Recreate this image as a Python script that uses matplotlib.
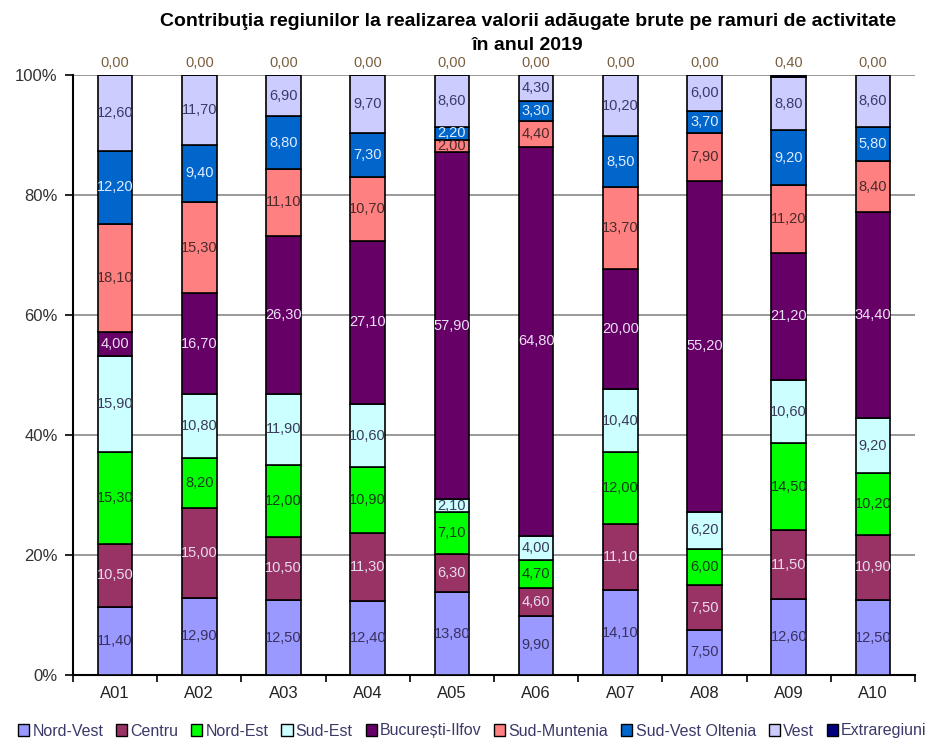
import matplotlib
matplotlib.use("Agg")
import matplotlib.pyplot as plt
import numpy as np
from matplotlib.patches import Patch

plt.rcParams['font.family'] = ['Liberation Sans', 'DejaVu Sans']

categories = ["A01", "A02", "A03", "A04", "A05", "A06", "A07", "A08", "A09", "A10"]
regions = ["Nord-Vest", "Centru", "Nord-Est", "Sud-Est", "București-Ilfov",
           "Sud-Muntenia", "Sud-Vest Oltenia", "Vest", "Extraregiuni"]

nord_vest = [11.40, 12.90, 12.50, 12.40, 13.80, 9.90, 14.10, 7.50, 12.60, 12.50]
centru = [10.50, 15.00, 10.50, 11.30, 6.30, 4.60, 11.10, 7.50, 11.50, 10.90]
nord_est = [15.30, 8.20, 12.00, 10.90, 7.10, 4.70, 12.00, 6.00, 14.50, 10.20]
sud_est = [15.90, 10.80, 11.90, 10.60, 2.10, 4.00, 10.40, 6.20, 10.60, 9.20]
bucuresti_ilfov = [4.00, 16.70, 26.30, 27.10, 57.90, 64.80, 20.00, 55.20, 21.20, 34.40]
sud_muntenia = [18.10, 15.30, 11.10, 10.70, 2.00, 4.40, 13.70, 7.90, 11.20, 8.40]
sud_vest_oltenia = [12.20, 9.40, 8.80, 7.30, 2.20, 3.30, 8.50, 3.70, 9.20, 5.80]
vest = [12.60, 11.70, 6.90, 9.70, 8.60, 4.30, 10.20, 6.00, 8.80, 8.60]
extraregiuni = [0.00, 0.00, 0.00, 0.00, 0.00, 0.00, 0.00, 0.00, 0.40, 0.00]

series = [nord_vest, centru, nord_est, sud_est, bucuresti_ilfov,
          sud_muntenia, sud_vest_oltenia, vest, extraregiuni]
colors = ["#9999FF", "#993366", "#00FF00", "#CCFFFF", "#660066",
          "#FF8080", "#0066CC", "#CCCCFF", "#000080"]
label_colors = ["#3a3060", "#e8dcf0", "#1a3a1a", "#3a3a5a", "#ece0f4",
                "#4a2a2a", "#e0ecff", "#3a3a6a", "#7a6040"]

fig = plt.figure(figsize=(9.39, 7.44), dpi=100)
ax = fig.add_axes([73/939, 69/744, 842/939, 600/744])

x = np.arange(len(categories))
bottom = np.zeros(len(categories))
for vals, col, lc in zip(series, colors, label_colors):
    vals = np.array(vals)
    ax.bar(x, vals, width=0.41, bottom=bottom, color=col, edgecolor="black",
           linewidth=1.2, zorder=3)
    for xi, v, b in zip(x, vals, bottom):
        s = f"{v:.2f}".replace(".", ",")
        if col == "#000080":
            ax.text(xi, 100 + 0.9, s, ha="center", va="bottom", fontsize=10.5,
                    color=lc, zorder=5)
        else:
            ax.text(xi, b + v / 2, s, ha="center", va="center", fontsize=10.5,
                    color=lc, zorder=5)
    bottom = bottom + vals

ax.set_xlim(-0.5, len(categories) - 0.5)
ax.set_ylim(0, 100)
ax.set_yticks([0, 20, 40, 60, 80, 100])
ax.set_yticklabels(["0%", "20%", "40%", "60%", "80%", "100%"], fontsize=12,
                   color="#333333")
ax.set_xticks(x)
ax.set_xticklabels(categories, fontsize=12, color="#222222")
ax.set_xticks(np.arange(-0.5, len(categories), 1.0), minor=True)
ax.tick_params(axis="x", which="major", length=0, pad=8)
ax.tick_params(axis="x", which="minor", length=5, width=1.2, color="black")
ax.tick_params(axis="y", length=6, width=1.2, color="black", pad=5)
ax.yaxis.grid(True, color="#888888", linewidth=1.2, zorder=0)
ax.set_axisbelow(True)
for sp in ["top", "right"]:
    ax.spines[sp].set_visible(False)
for sp in ["left", "bottom"]:
    ax.spines[sp].set_linewidth(1.5)
    ax.spines[sp].set_color("black")

fig.text(528/939, 1 - 21/744, "Contribuţia regiunilor la realizarea valorii adăugate brute pe ramuri de activitate",
         ha="center", va="center", fontsize=14, fontweight="bold")
fig.text(528/939, 1 - 45/744, "în anul 2019", ha="center", va="center",
         fontsize=14, fontweight="bold")

handles = [Patch(facecolor=c, edgecolor="black", linewidth=1.0) for c in colors]
leg = fig.legend(handles, regions, loc="center", bbox_to_anchor=(0.503, 1 - 731/744),
                 ncol=9, frameon=False, fontsize=11.5, handlelength=0.7,
                 handleheight=0.7, handletextpad=0.2, columnspacing=0.8,
                 borderaxespad=0)
for t in leg.get_texts():
    t.set_color("#3a3a6a")

fig.savefig("out.png", dpi=100)
